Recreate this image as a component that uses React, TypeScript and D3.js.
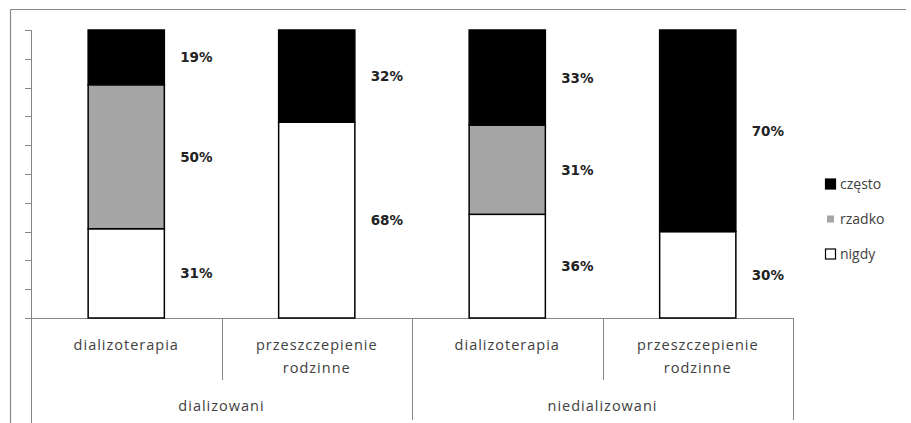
import React from "react";
import * as d3 from "d3";

const categories = ["dializoterapia", "przeszczepienie rodzinne", "dializoterapia", "przeszczepienie rodzinne"];
const groups = ["dializowani", "niedializowani"];
const seriesNames = ["nigdy", "rzadko", "często"];
const nigdy = [31, 68, 36, 30];
const rzadko = [50, 0, 31, 0];
const czesto = [19, 32, 33, 70];
const yTicks = [0, 10, 20, 30, 40, 50, 60, 70, 80, 90, 100];

const colors: Record<string, string> = { nigdy: "#ffffff", rzadko: "#a6a6a6", "często": "#000000" };

export default function App() {
  const W = 911, H = 423;
  const x0 = 31, x1 = 793, yTop = 30, yBot = 318;
  const x = d3.scaleBand<number>().domain(d3.range(categories.length)).range([x0, x1]).paddingInner(0.6).paddingOuter(0.3);
  const y = d3.scaleLinear().domain([0, 100]).range([yBot, yTop]);
  const rows = categories.map((c, i) => ({ i, nigdy: nigdy[i], rzadko: rzadko[i], "często": czesto[i] }));
  const stack = d3.stack<any>().keys(seriesNames)(rows);
  const step = (x1 - x0) / categories.length;
  const font = "'Open Sans', 'Noto Sans', sans-serif";
  const boldFont = "'DejaVu Sans', Verdana, sans-serif";
  const legendItems = ["często", "rzadko", "nigdy"];
  return (
    <svg width={W} height={H} style={{ position: "absolute", left: 0, top: 0, background: "#fff" }}>
      <line x1={10.5} x2={906} y1={9.5} y2={9.5} stroke="#878787" strokeWidth={1.2} />
      <line x1={10.5} x2={10.5} y1={9.5} y2={H} stroke="#878787" strokeWidth={1.2} />
      {/* y axis */}
      <line x1={x0 + 0.5} x2={x0 + 0.5} y1={yTop} y2={H} stroke="#878787" />
      {yTicks.map((t) => (
        <line key={t} x1={25} x2={x0} y1={Math.round(y(t)) + 0.5} y2={Math.round(y(t)) + 0.5} stroke="#878787" />
      ))}
      <line x1={25} x2={x1} y1={yBot + 0.5} y2={yBot + 0.5} stroke="#878787" />
      {/* category separators */}
      {categories.map((c, i) => {
        const xs = x0 + step * (i + 1);
        const isGroupEnd = (i + 1) % 2 === 0;
        return (
          <line key={i} x1={Math.round(xs) + 0.5} x2={Math.round(xs) + 0.5} y1={yBot} y2={isGroupEnd ? 420 : 380} stroke="#878787" />
        );
      })}
      {/* bars */}
      {stack.map((s) =>
        s.map((d, i) =>
          d[1] - d[0] > 0 ? (
            <rect
              key={s.key + i}
              x={(x(i) as number)}
              y={y(d[1])}
              width={x.bandwidth()}
              height={y(d[0]) - y(d[1])}
              fill={colors[s.key]}
              stroke="#000"
              strokeWidth={1.5}
            />
          ) : null
        )
      )}
      {/* data labels */}
      {stack.map((s) =>
        s.map((d, i) =>
          d[1] - d[0] > 0 ? (
            <text
              key={"l" + s.key + i}
              x={(x(i) as number) + x.bandwidth() + 32}
              y={(y(d[0]) + y(d[1])) / 2 + 5}
              textAnchor="middle"
              fontFamily={boldFont}
              fontWeight="bold"
              fontSize={13.5}
              fill="#222"
            >
              {Math.round(d[1] - d[0])}%
            </text>
          ) : null
        )
      )}
      {/* category labels */}
      {categories.map((c, i) => {
        const cx = x0 + step * (i + 0.5);
        const words = c.split(" ");
        return (
          <text key={"c" + i} x={cx} textAnchor="middle" fontFamily={font} fontSize={14.5} letterSpacing={1} fill="#404040">
            {words.map((w, k) => (
              <tspan key={k} x={cx} y={350 + k * 23}>{w}</tspan>
            ))}
          </text>
        );
      })}
      {groups.map((g, gi) => (
        <text key={g} x={x0 + step * (gi * 2 + 1)} y={411} textAnchor="middle" fontFamily={font} fontSize={14.5} letterSpacing={1} fill="#404040">
          {g}
        </text>
      ))}
      {/* legend */}
      {legendItems.map((k, i) => {
        const ly = 184 + i * 35;
        const isGray = k === "rzadko";
        const sz = isGray ? 7 : 10;
        return (
          <g key={k}>
            <rect x={isGray ? 827 : 825.5} y={ly - sz / 2} width={sz} height={sz} fill={colors[k]} stroke={isGray ? "none" : "#000"} strokeWidth={1.2} />
            <text x={840} y={ly + 5} fontFamily={font} fontSize={14} fill="#404040">{k}</text>
          </g>
        );
      })}
    </svg>
  );
}
